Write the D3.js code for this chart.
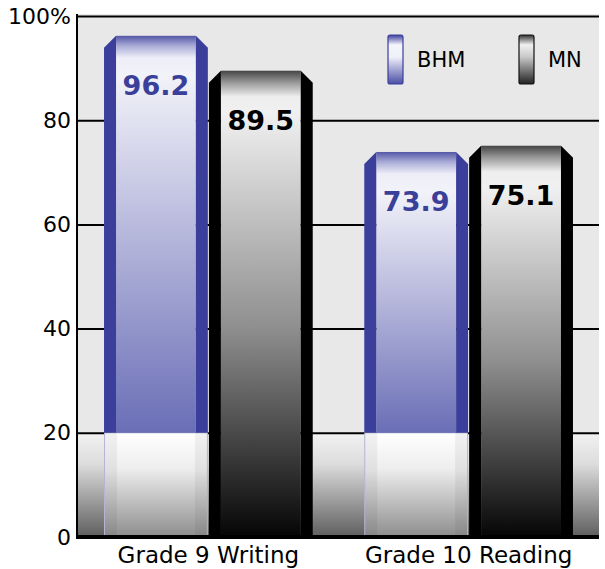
<!DOCTYPE html>
<html lang="en">
<head>
<meta charset="UTF-8">
<title>BHM vs MN</title>
<script src="https://d3js.org/d3.v7.min.js"></script>
<style>
  body { margin: 0; background: #fff; }
  text { font-family: "DejaVu Sans", sans-serif; }
</style>
</head>
<body>
<svg width="605" height="569"></svg>
<script>
// data
const categories = ["Grade 9 Writing", "Grade 10 Reading"];
const seriesNames = ["BHM", "MN"];
const bhmValues = [96.2, 73.9];
const mnValues = [89.5, 75.1];
const yTicks = [0, 20, 40, 60, 80, 100];
const floorLevel = 20;

const rows = [];
categories.forEach((c, i) => {
    rows.push({ category: c, series: "BHM", value: bhmValues[i] });
    rows.push({ category: c, series: "MN", value: mnValues[i] });
});

const svg = d3.select("svg");
const plotLeft = 78, plotRight = 599, plotTop = 16, plotBottom = 537;
const side = 12;

const x0 = d3.scaleBand().domain(categories).range([plotLeft, plotRight])
    .paddingInner(0.198).paddingOuter(0.1);
const x1 = d3.scaleBand().domain(seriesNames).range([0, x0.bandwidth()])
    .paddingInner(0.01);
const y = d3.scaleLinear().domain([0, 100]).range([plotBottom, plotTop]);

const defs = svg.append("defs");

// floor gradient
const floorGrad = defs.append("linearGradient").attr("id", "floor")
    .attr("x1", 0).attr("x2", 0).attr("y1", 0).attr("y2", 1);
floorGrad.append("stop").attr("offset", 0).attr("stop-color", "#f2f2f2");
floorGrad.append("stop").attr("offset", 0.3).attr("stop-color", "#dcdcdc");
floorGrad.append("stop").attr("offset", 1).attr("stop-color", "#5e5e5e");

const bhmFloorGrad = defs.append("linearGradient").attr("id", "bhmFloor")
    .attr("x1", 0).attr("x2", 0).attr("y1", 0).attr("y2", 1);
bhmFloorGrad.append("stop").attr("offset", 0).attr("stop-color", "#ffffff");
bhmFloorGrad.append("stop").attr("offset", 0.35).attr("stop-color", "#ededed");
bhmFloorGrad.append("stop").attr("offset", 1).attr("stop-color", "#8e8e8e");

// background
svg.append("rect")
    .attr("x", plotLeft).attr("y", y(100) - 2)
    .attr("width", plotRight - plotLeft).attr("height", y(floorLevel) - y(100) + 2)
    .attr("fill", "#e8e8e8");
svg.append("rect")
    .attr("x", plotLeft).attr("y", y(floorLevel))
    .attr("width", plotRight - plotLeft).attr("height", y(0) - y(floorLevel))
    .attr("fill", "url(#floor)");

// y axis + gridlines
const yAxis = svg.append("g")
    .attr("transform", `translate(${plotLeft},0)`)
    .call(d3.axisLeft(y).tickValues(yTicks).tickSize(-(plotRight - plotLeft)).tickPadding(7)
        .tickFormat(d => d === 100 ? "100%" : d));
yAxis.select(".domain").remove();
yAxis.selectAll("line").attr("stroke", "#000").attr("stroke-width", 2);
yAxis.selectAll("text").attr("font-size", 22).attr("fill", "#000");

// bar gradients
rows.forEach((d, i) => {
    const yt = y(d.value);
    const g = defs.append("linearGradient").attr("id", "front" + i)
        .attr("gradientUnits", "userSpaceOnUse")
        .attr("x1", 0).attr("x2", 0).attr("y1", yt);
    if (d.series === "BHM") {
        const yb = y(floorLevel), h = yb - yt;
        g.attr("y2", yb);
        g.append("stop").attr("offset", 0).attr("stop-color", "#5357a6");
        g.append("stop").attr("offset", 10 / h).attr("stop-color", "#a9abd6");
        g.append("stop").attr("offset", 22 / h).attr("stop-color", "#eeeef8");
        g.append("stop").attr("offset", 40 / h).attr("stop-color", "#f2f2f9");
        g.append("stop").attr("offset", 1).attr("stop-color", "#6a6eb6");
    } else {
        const yb = y(0), h = yb - yt;
        g.attr("y2", yb);
        g.append("stop").attr("offset", 0).attr("stop-color", "#444");
        g.append("stop").attr("offset", 12 / h).attr("stop-color", "#9a9a9a");
        g.append("stop").attr("offset", 26 / h).attr("stop-color", "#eeeeee");
        g.append("stop").attr("offset", 42 / h).attr("stop-color", "#f0f0f0");
        g.append("stop").attr("offset", 0.55).attr("stop-color", "#8f8f8f");
        g.append("stop").attr("offset", 1).attr("stop-color", "#050505");
    }
});

// bars
const bars = svg.append("g").selectAll("g")
    .data(rows).join("g")
    .attr("transform", d => `translate(${x0(d.category) + x1(d.series)},0)`);

bars.each(function (d, i) {
    const g = d3.select(this);
    const w = x1.bandwidth();
    const yt = y(d.value);
    const isB = d.series === "BHM";
    const yb = isB ? y(floorLevel) : y(0);
    const sideColor = isB ? "#3b3f9b" : "#000";

    if (isB) {
        g.append("rect")
            .attr("x", 0.5).attr("y", y(floorLevel))
            .attr("width", w - 1).attr("height", y(0) - y(floorLevel) - 0.5)
            .attr("fill", "url(#bhmFloor)")
            .attr("stroke", "#b4b4d6").attr("stroke-width", 1);
        g.append("rect")
            .attr("x", 1).attr("y", y(floorLevel))
            .attr("width", side).attr("height", y(0) - y(floorLevel) - 1)
            .attr("fill", "#000").attr("opacity", 0.05);
        g.append("rect")
            .attr("x", w - side - 1).attr("y", y(floorLevel))
            .attr("width", side).attr("height", y(0) - y(floorLevel) - 1)
            .attr("fill", "#000").attr("opacity", 0.05);
    }

    g.append("rect")
        .attr("x", side).attr("y", yt)
        .attr("width", w - 2 * side).attr("height", yb - yt)
        .attr("fill", `url(#front${i})`);
    g.append("path")
        .attr("d", `M0,${yt + side}L${side},${yt}L${side},${yb}L0,${yb}Z`)
        .attr("fill", sideColor);
    g.append("path")
        .attr("d", `M${w - side},${yt}L${w},${yt + side}L${w},${yb}L${w - side},${yb}Z`)
        .attr("fill", sideColor);

    g.append("text")
        .attr("x", w / 2).attr("y", yt + 59)
        .attr("text-anchor", "middle")
        .attr("font-size", 27).attr("font-weight", "bold")
        .attr("fill", isB ? "#3a3f9a" : "#000")
        .text(d.value.toFixed(1));
});

// axis lines
svg.append("line")
    .attr("x1", plotLeft - 1).attr("x2", plotLeft - 1)
    .attr("y1", y(100) - 2).attr("y2", y(0) + 2)
    .attr("stroke", "#000").attr("stroke-width", 2);
svg.append("line")
    .attr("x1", plotLeft - 2).attr("x2", plotRight)
    .attr("y1", y(0)).attr("y2", y(0))
    .attr("stroke", "#000").attr("stroke-width", 4);

// x axis labels
const xAxis = svg.append("g")
    .attr("transform", `translate(0,${plotBottom})`)
    .call(d3.axisBottom(x0).tickSize(0).tickPadding(10));
xAxis.select(".domain").remove();
xAxis.selectAll("text").attr("font-size", 23).attr("fill", "#000");

// legend
const legendX = [388, 519];
const legendGrads = [
    ["#3b3f9b", "#f4f4fb", "#f0f0f8", "#4a4ea6"],
    ["#333", "#f0f0f0", "#c8c8c8", "#222"]
];
seriesNames.forEach((s, i) => {
    const lg = defs.append("linearGradient").attr("id", "leg" + i)
        .attr("x1", 0).attr("x2", 0).attr("y1", 0).attr("y2", 1);
    [0, 0.2, 0.45, 1].forEach((o, k) =>
        lg.append("stop").attr("offset", o).attr("stop-color", legendGrads[i][k]));
    svg.append("rect")
        .attr("x", legendX[i]).attr("y", 35)
        .attr("width", 15).attr("height", 49).attr("rx", 2)
        .attr("fill", `url(#leg${i})`)
        .attr("stroke", i === 0 ? "#3b3f9b" : "#111").attr("stroke-width", 1.2);
    svg.append("text")
        .attr("x", legendX[i] + 29).attr("y", 60)
        .attr("dy", "0.35em")
        .attr("font-size", 21).attr("fill", "#000")
        .text(s);
});
</script>
</body>
</html>
